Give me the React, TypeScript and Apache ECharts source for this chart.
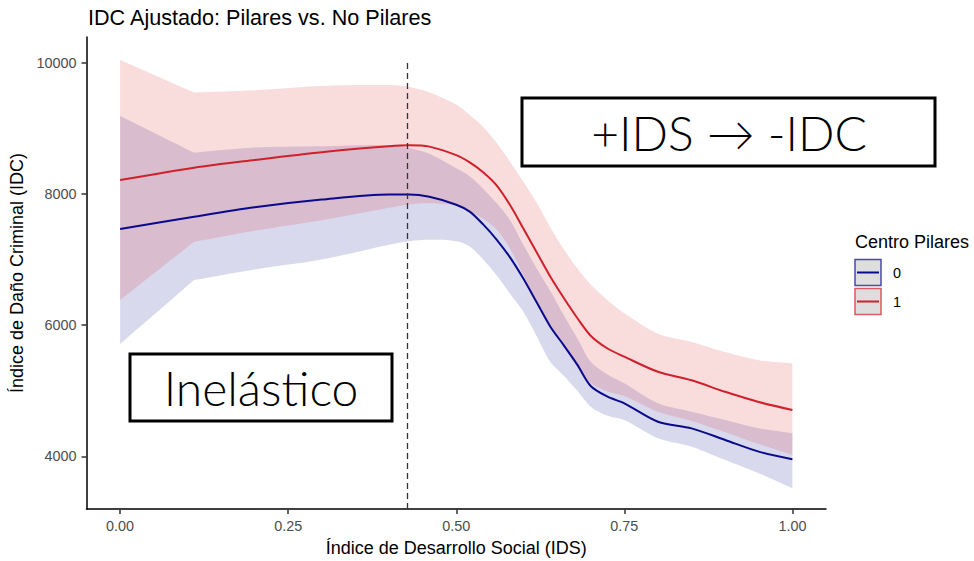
import React, { useEffect, useRef } from 'react';
import * as echarts from 'echarts';

// Índice de Desarrollo Social (x)
const IDS = [0, 0.11, 0.2, 0.3, 0.4, 0.43, 0.46, 0.5, 0.52, 0.54, 0.56, 0.58, 0.6, 0.62, 0.64, 0.66, 0.68, 0.7, 0.725, 0.75, 0.8, 0.85, 0.9, 0.95, 1.0];

// Centro Pilares = 1 (red)
const fit1 = [8211, 8400, 8517, 8636, 8725, 8740, 8720, 8590, 8480, 8330, 8130, 7830, 7470, 7104, 6738, 6414, 6110, 5840, 5645, 5520, 5290, 5160, 4985, 4830, 4708];
const up1 = [10040, 9546, 9580, 9645, 9657, 9630, 9550, 9360, 9200, 9020, 8780, 8490, 8180, 7856, 7490, 7155, 6866, 6620, 6380, 6180, 5870, 5745, 5590, 5465, 5420];
const lo1 = [6384, 7271, 7440, 7600, 7790, 7840, 7856, 7820, 7730, 7620, 7460, 7170, 6760, 6350, 5990, 5680, 5360, 5120, 4990, 4920, 4680, 4540, 4370, 4190, 4023];

// Centro Pilares = 0 (blue)
const fit0 = [7465, 7652, 7795, 7913, 7990, 7990, 7955, 7835, 7730, 7535, 7305, 7033, 6707, 6342, 5977, 5693, 5400, 5074, 4911, 4810, 4530, 4428, 4252, 4074, 3958];
const up0 = [9185, 8626, 8705, 8725, 8744, 8700, 8610, 8390, 8270, 8080, 7860, 7600, 7220, 6860, 6520, 6150, 5800, 5444, 5250, 5115, 4810, 4683, 4556, 4430, 4353];
const lo0 = [5713, 6688, 6850, 7000, 7225, 7280, 7300, 7280, 7200, 7000, 6760, 6480, 6200, 5825, 5440, 5230, 5000, 4759, 4620, 4556, 4278, 4150, 3947, 3744, 3516];

const X_TICKS = [0, 0.25, 0.5, 0.75, 1.0];
const Y_TICKS = [4000, 6000, 8000, 10000];
const THRESHOLD = 0.427;
const LEGEND_LABELS = ['0', '1'];

const FONT = '"Liberation Sans", Arial, sans-serif';
const THIN = 'Lato, "Open Sans", sans-serif';

export default function App() {
  const ref = useRef<HTMLDivElement>(null);
  useEffect(() => {
    document.body.style.margin = '0';
    const chart = echarts.init(ref.current!, null, { renderer: 'svg' });
    const n = IDS.length;
    const sharp = (i: number) => i === 0 || i === 1 || i === n - 1;
    const band = (lo: number[], up: number[], color: string, name: string) => ({
      type: 'custom',
      name,
      silent: true,
      z: 1,
      data: [[0, 5000]],
      renderItem: (_p: any, api: any) => {
        const pts: number[][] = [];
        for (let i = 0; i < n; i++) {
          const p = api.coord([IDS[i], up[i]]);
          pts.push(p);
          if (sharp(i)) pts.push([p[0], p[1]]);
        }
        for (let i = n - 1; i >= 0; i--) {
          const p = api.coord([IDS[i], lo[i]]);
          pts.push(p);
          if (sharp(i)) pts.push([p[0], p[1]]);
        }
        return { type: 'polygon', shape: { points: pts, smooth: 0.3 }, style: { fill: color } };
      },
    });
    const toPairs = (ys: number[]) => IDS.map((x, i) => [x, ys[i]]);
    const blueLine = '#0a0a8c';
    const redLine = '#d0202c';
    chart.setOption({
      animation: false,
      title: {
        text: 'IDC Ajustado: Pilares vs. No Pilares',
        left: 88,
        top: 6,
        padding: 0,
        textStyle: { fontFamily: FONT, fontSize: 21.6, fontWeight: 'normal', color: '#000' },
      },
      grid: { left: 86.5, right: 148, top: 37, bottom: 52, containLabel: false, outerBoundsMode: 'none' },
      xAxis: {
        type: 'value',
        min: -0.05,
        max: 1.05,
        name: 'Índice de Desarrollo Social (IDS)',
        nameLocation: 'middle',
        nameGap: 30,
        nameTextStyle: { fontFamily: FONT, fontSize: 18, color: '#000' },
        axisLine: { show: true, onZero: false, lineStyle: { color: '#000', width: 1.5 } },
        axisTick: { show: true, length: 5, customValues: X_TICKS, lineStyle: { color: '#333', width: 1.5 } },
        axisLabel: {
          customValues: X_TICKS,
          formatter: (v: number) => v.toFixed(2),
          fontFamily: FONT,
          fontSize: 14.4,
          color: '#4d4d4d',
          margin: 10,
        },
        splitLine: { show: false },
      },
      yAxis: {
        type: 'value',
        min: 3200,
        max: 10390,
        name: 'Índice de Daño Criminal (IDC)',
        nameLocation: 'middle',
        nameGap: 53,
        nameTextStyle: { fontFamily: FONT, fontSize: 18, color: '#000' },
        axisLine: { show: true, onZero: false, lineStyle: { color: '#000', width: 1.5 } },
        axisTick: { show: true, length: 5, customValues: Y_TICKS, lineStyle: { color: '#333', width: 1.5 } },
        axisLabel: {
          customValues: Y_TICKS,
          formatter: (v: number) => String(v),
          fontFamily: FONT,
          fontSize: 14.4,
          color: '#4d4d4d',
          margin: 10,
        },
        splitLine: { show: false },
      },
      series: [
        band(lo0, up0, 'rgba(0,0,139,0.15)', 'banda 0'),
        band(lo1, up1, 'rgba(220,50,50,0.17)', 'banda 1'),
        {
          type: 'line',
          name: '0',
          data: toPairs(fit0),
          showSymbol: false,
          smooth: 0.3,
          z: 3,
          lineStyle: { color: blueLine, width: 2 },
          itemStyle: { color: blueLine },
          markLine: {
            silent: true,
            symbol: ['none', 'none'],
            label: { show: false },
            lineStyle: { color: '#333', type: [6, 4], width: 1.3 },
            data: [[{ coord: [THRESHOLD, 3200] }, { coord: [THRESHOLD, 10000] }]],
          },
        },
        {
          type: 'line',
          name: '1',
          data: toPairs(fit1),
          showSymbol: false,
          smooth: 0.3,
          z: 3,
          lineStyle: { color: redLine, width: 2 },
          itemStyle: { color: redLine },
        },
      ],
      graphic: [
        // annotation boxes
        {
          type: 'rect',
          z: 10,
          shape: { x: 522, y: 98, width: 413, height: 68 },
          style: { fill: '#fff', stroke: '#000', lineWidth: 3 },
        },
        {
          type: 'text',
          z: 11,
          x: 729,
          y: 132,
          style: { text: '+IDS → -IDC', fontFamily: THIN, fontWeight: 300, fontSize: 48, fill: '#000', align: 'center', verticalAlign: 'middle' },
        },
        {
          type: 'rect',
          z: 10,
          shape: { x: 130, y: 354, width: 262, height: 67 },
          style: { fill: '#fff', stroke: '#000', lineWidth: 3 },
        },
        {
          type: 'text',
          z: 11,
          x: 261,
          y: 387,
          style: { text: 'Inelástico', fontFamily: THIN, fontWeight: 300, fontSize: 48, fill: '#000', align: 'center', verticalAlign: 'middle' },
        },
        // legend
        {
          type: 'text',
          x: 855,
          y: 242,
          style: { text: 'Centro Pilares', fontFamily: FONT, fontSize: 18, fill: '#000', verticalAlign: 'middle' },
        },
        {
          type: 'rect',
          shape: { x: 855, y: 259.5, width: 26, height: 26 },
          style: { fill: '#dedede', stroke: '#4a4aae', lineWidth: 1.5 },
        },
        {
          type: 'line',
          shape: { x1: 857, y1: 272.5, x2: 879, y2: 272.5 },
          style: { stroke: blueLine, lineWidth: 2 },
        },
        {
          type: 'rect',
          shape: { x: 855, y: 288.5, width: 26, height: 26 },
          style: { fill: '#dedede', stroke: '#dc5a60', lineWidth: 1.5 },
        },
        {
          type: 'line',
          shape: { x1: 857, y1: 301.5, x2: 879, y2: 301.5 },
          style: { stroke: redLine, lineWidth: 2 },
        },
        {
          type: 'text',
          x: 893,
          y: 273,
          style: { text: LEGEND_LABELS[0], fontFamily: FONT, fontSize: 14.4, fill: '#000', verticalAlign: 'middle' },
        },
        {
          type: 'text',
          x: 893,
          y: 302,
          style: { text: LEGEND_LABELS[1], fontFamily: FONT, fontSize: 14.4, fill: '#000', verticalAlign: 'middle' },
        },
      ],
    });
    return () => chart.dispose();
  }, []);
  return <div ref={ref} style={{ width: 974, height: 561, position: 'absolute', left: 0, top: 0 }} />;
}
